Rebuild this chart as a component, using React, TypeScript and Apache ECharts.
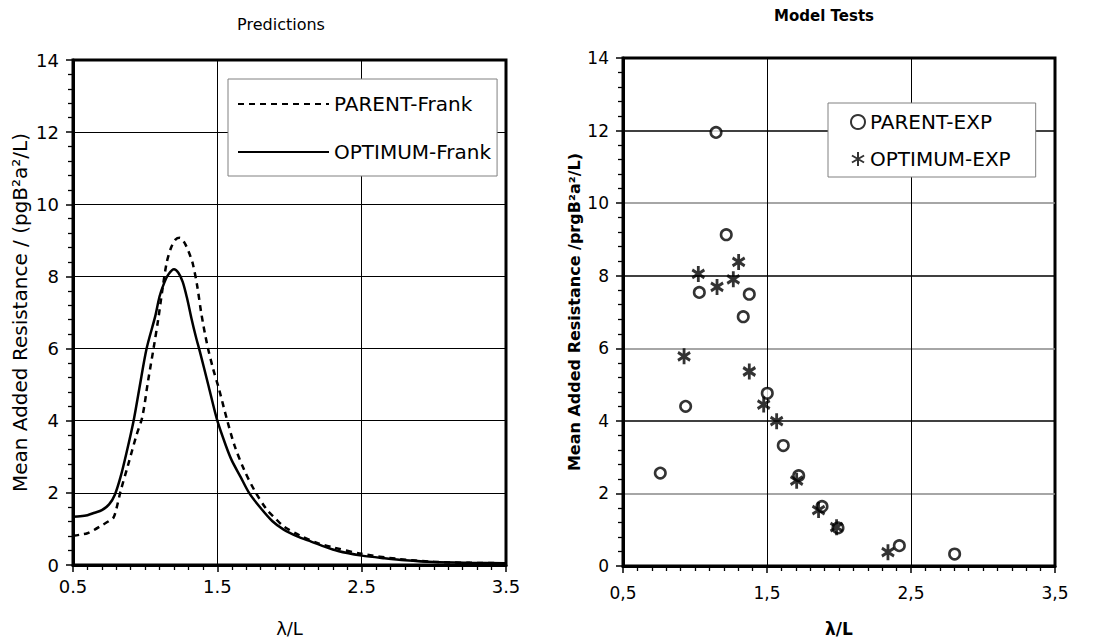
import React, { useEffect, useRef } from "react";
import * as echarts from "echarts";

const parentFrankX = [0.5,0.55,0.6,0.65,0.7,0.75,0.78,0.8,0.83,0.88,0.94,0.98,1.02,1.06,1.09,1.12,1.15,1.18,1.21,1.24,1.27,1.3,1.33,1.36,1.39,1.43,1.47,1.51,1.565,1.62,1.69,1.76,1.84,1.9,1.96,2.07,2.2,2.3,2.5,2.75,3.0,3.25,3.5];
const parentFrankY = [0.81,0.84,0.88,0.98,1.1,1.22,1.31,1.55,2.05,2.75,3.6,4.1,5.1,6.05,6.8,7.65,8.4,8.8,9.02,9.07,8.95,8.7,8.35,7.75,6.95,6.1,5.45,4.9,4.06,3.3,2.6,2.05,1.55,1.3,1.07,0.82,0.6,0.49,0.31,0.17,0.09,0.06,0.05];

const optimumFrankX = [0.5,0.55,0.6,0.65,0.7,0.75,0.79,0.83,0.87,0.92,0.96,1.01,1.07,1.1,1.13,1.16,1.2,1.23,1.26,1.29,1.32,1.35,1.38,1.44,1.5,1.56,1.6,1.66,1.72,1.8,1.88,1.96,2.05,2.15,2.3,2.4,2.5,2.65,2.8,3.0,3.25,3.5];
const optimumFrankY = [1.34,1.35,1.38,1.45,1.52,1.68,1.95,2.45,3.1,4.0,4.9,6.0,6.9,7.45,7.8,8.05,8.2,8.1,7.85,7.4,6.85,6.35,5.9,4.95,4.0,3.3,2.9,2.45,2.0,1.58,1.22,0.98,0.8,0.65,0.43,0.33,0.26,0.19,0.13,0.08,0.06,0.05];

const parentExpX = [1.146,1.217,1.03,1.377,1.335,0.935,0.759,1.502,1.613,1.72,1.882,1.993,2.419,2.803];
const parentExpY = [11.95,9.13,7.54,7.49,6.87,4.4,2.56,4.76,3.32,2.49,1.64,1.05,0.56,0.33];

const optimumExpX = [1.023,1.153,1.266,1.303,0.924,1.377,1.477,1.567,1.706,1.858,1.983,2.34];
const optimumExpY = [8.05,7.69,7.9,8.38,5.78,5.36,4.45,3.99,2.35,1.54,1.07,0.38];

const zip = (xs: number[], ys: number[]) => xs.map((x, i) => [x, ys[i]]);

const FONT = "DejaVu Sans";
const STAR = "path://M10,0L10,20M1.34,5L18.66,15M1.34,15L18.66,5";

function axisX(gridIndex: number, name: string, bold: boolean, comma: boolean, nameSize: number, labelSize: number, labelMargin: number) {
  return {
    type: "value",
    gridIndex,
    min: 0.5,
    max: 3.5,
    interval: 1,
    name,
    nameLocation: "middle",
    nameGap: 54,
    nameTextStyle: { color: "#000", fontFamily: FONT, fontSize: nameSize, fontWeight: bold ? "bold" : "normal" },
    axisLine: { show: true, lineStyle: { color: "#000", width: 3 } },
    axisTick: { show: true, inside: false, length: 7, lineStyle: { color: "#000", width: 1.5 } },
    minorTick: { show: true, splitNumber: 10, length: 5, lineStyle: { color: "#000", width: 1.3 } },
    axisLabel: {
      color: "#000",
      fontFamily: FONT,
      fontSize: labelSize,
      margin: labelMargin,
      formatter: (v: number) => (comma ? v.toFixed(1).replace(".", ",") : v.toFixed(1)),
    },
    splitLine: { show: true, lineStyle: { color: "#000", width: 1 } },
  };
}

function axisY(gridIndex: number, name: string, bold: boolean, nameSize: number, labelSize: number, gap: number, splitColors: string[], splitWidth: number) {
  return {
    type: "value",
    gridIndex,
    min: 0,
    max: 14,
    interval: 2,
    name,
    nameLocation: "middle",
    nameGap: gap,
    nameTextStyle: { color: "#000", fontFamily: FONT, fontSize: nameSize, fontWeight: bold ? "bold" : "normal" },
    axisLine: { show: true, lineStyle: { color: "#000", width: 3 } },
    axisTick: { show: true, inside: false, length: 7, lineStyle: { color: "#000", width: 1.5 } },
    minorTick: { show: true, splitNumber: 5, length: 5, lineStyle: { color: "#000", width: 1.3 } },
    axisLabel: { color: "#000", fontFamily: FONT, fontSize: labelSize, margin: 14 },
    splitLine: { show: true, lineStyle: { color: splitColors, width: splitWidth } },
  };
}

export default function App() {
  const ref = useRef<HTMLDivElement>(null);
  useEffect(() => {
    if (!ref.current) return;
    const chart = echarts.init(ref.current, undefined, { renderer: "svg" });
    chart.setOption({
      animation: false,
      backgroundColor: "#fff",
      graphic: [
        { type: "text", x: 281, y: 24, style: { text: "Predictions", fill: "#000", font: `16px '${FONT}'`, textAlign: "center", textVerticalAlign: "middle" } },
        { type: "text", x: 824, y: 16, style: { text: "Model Tests", fill: "#000", font: `bold 15px '${FONT}'`, textAlign: "center", textVerticalAlign: "middle" } },
      ],
      grid: [
        { left: 73, top: 60, width: 433, height: 508.5, show: true, borderColor: "#000", borderWidth: 3, backgroundColor: "transparent" },
        { left: 623, top: 58, width: 432, height: 514, show: true, borderColor: "#000", borderWidth: 3, backgroundColor: "transparent" },
      ],
      xAxis: [
        axisX(0, "λ/L", false, false, 18, 18, 12),
        axisX(1, "λ/L", true, true, 17, 17, 18),
      ],
      yAxis: [
        axisY(0, "Mean Added Resistance / (pgB²a²/L)", false, 20, 18, 43, ["#000"], 1),
        axisY(1, "Mean Added Resistance /prgB²a²/L)", true, 16, 17, 41, ["#000", "#888", "#000", "#888", "#000", "#888", "#000", "#000"], 1.5),
      ],
      legend: [
        {
          data: ["PARENT-Frank", "OPTIMUM-Frank"],
          orient: "vertical",
          left: 228,
          top: 79,
          itemWidth: 91,
          itemHeight: 14,
          itemGap: 28,
          padding: [15, 6, 14, 9],
          backgroundColor: "#fff",
          borderColor: "#808080",
          borderWidth: 1,
          borderRadius: 0,
          itemStyle: { opacity: 0 },
          textStyle: { color: "#000", fontFamily: FONT, fontSize: 20, lineHeight: 20 },
        },
        {
          data: ["PARENT-EXP", "OPTIMUM-EXP"],
          orient: "vertical",
          left: 828,
          top: 103,
          itemWidth: 14,
          itemHeight: 14,
          itemGap: 17,
          padding: [9, 25, 8, 22],
          backgroundColor: "#fff",
          borderColor: "#808080",
          borderWidth: 1,
          borderRadius: 0,
          textStyle: { color: "#000", fontFamily: FONT, fontSize: 20, lineHeight: 20 },
        },
      ],
      series: [
        {
          name: "PARENT-Frank",
          type: "line",
          xAxisIndex: 0,
          yAxisIndex: 0,
          data: zip(parentFrankX, parentFrankY),
          symbol: "none",
          showSymbol: false,
          smooth: 0.3,
          lineStyle: { color: "#000", width: 2.5, type: [6, 5] },
          itemStyle: { color: "#000" },
        },
        {
          name: "OPTIMUM-Frank",
          type: "line",
          xAxisIndex: 0,
          yAxisIndex: 0,
          data: zip(optimumFrankX, optimumFrankY),
          symbol: "none",
          showSymbol: false,
          smooth: 0.3,
          lineStyle: { color: "#000", width: 2.5, type: "solid" },
          itemStyle: { color: "#000" },
        },
        {
          name: "PARENT-EXP",
          type: "scatter",
          xAxisIndex: 1,
          yAxisIndex: 1,
          data: zip(parentExpX, parentExpY),
          symbol: "circle",
          symbolSize: 10.5,
          itemStyle: { color: "#fff", borderColor: "#000", borderWidth: 2.6 },
          z: 3,
        },
        {
          name: "OPTIMUM-EXP",
          type: "scatter",
          xAxisIndex: 1,
          yAxisIndex: 1,
          data: zip(optimumExpX, optimumExpY),
          symbol: STAR,
          symbolSize: [14, 16],
          symbolKeepAspect: true,
          itemStyle: { color: "transparent", borderColor: "#000", borderWidth: 3 },
          z: 4,
        },
      ],
    });
    return () => chart.dispose();
  }, []);
  return <div ref={ref} style={{ position: "absolute", left: 0, top: 0, width: "1102px", height: "642px" }} />;
}
